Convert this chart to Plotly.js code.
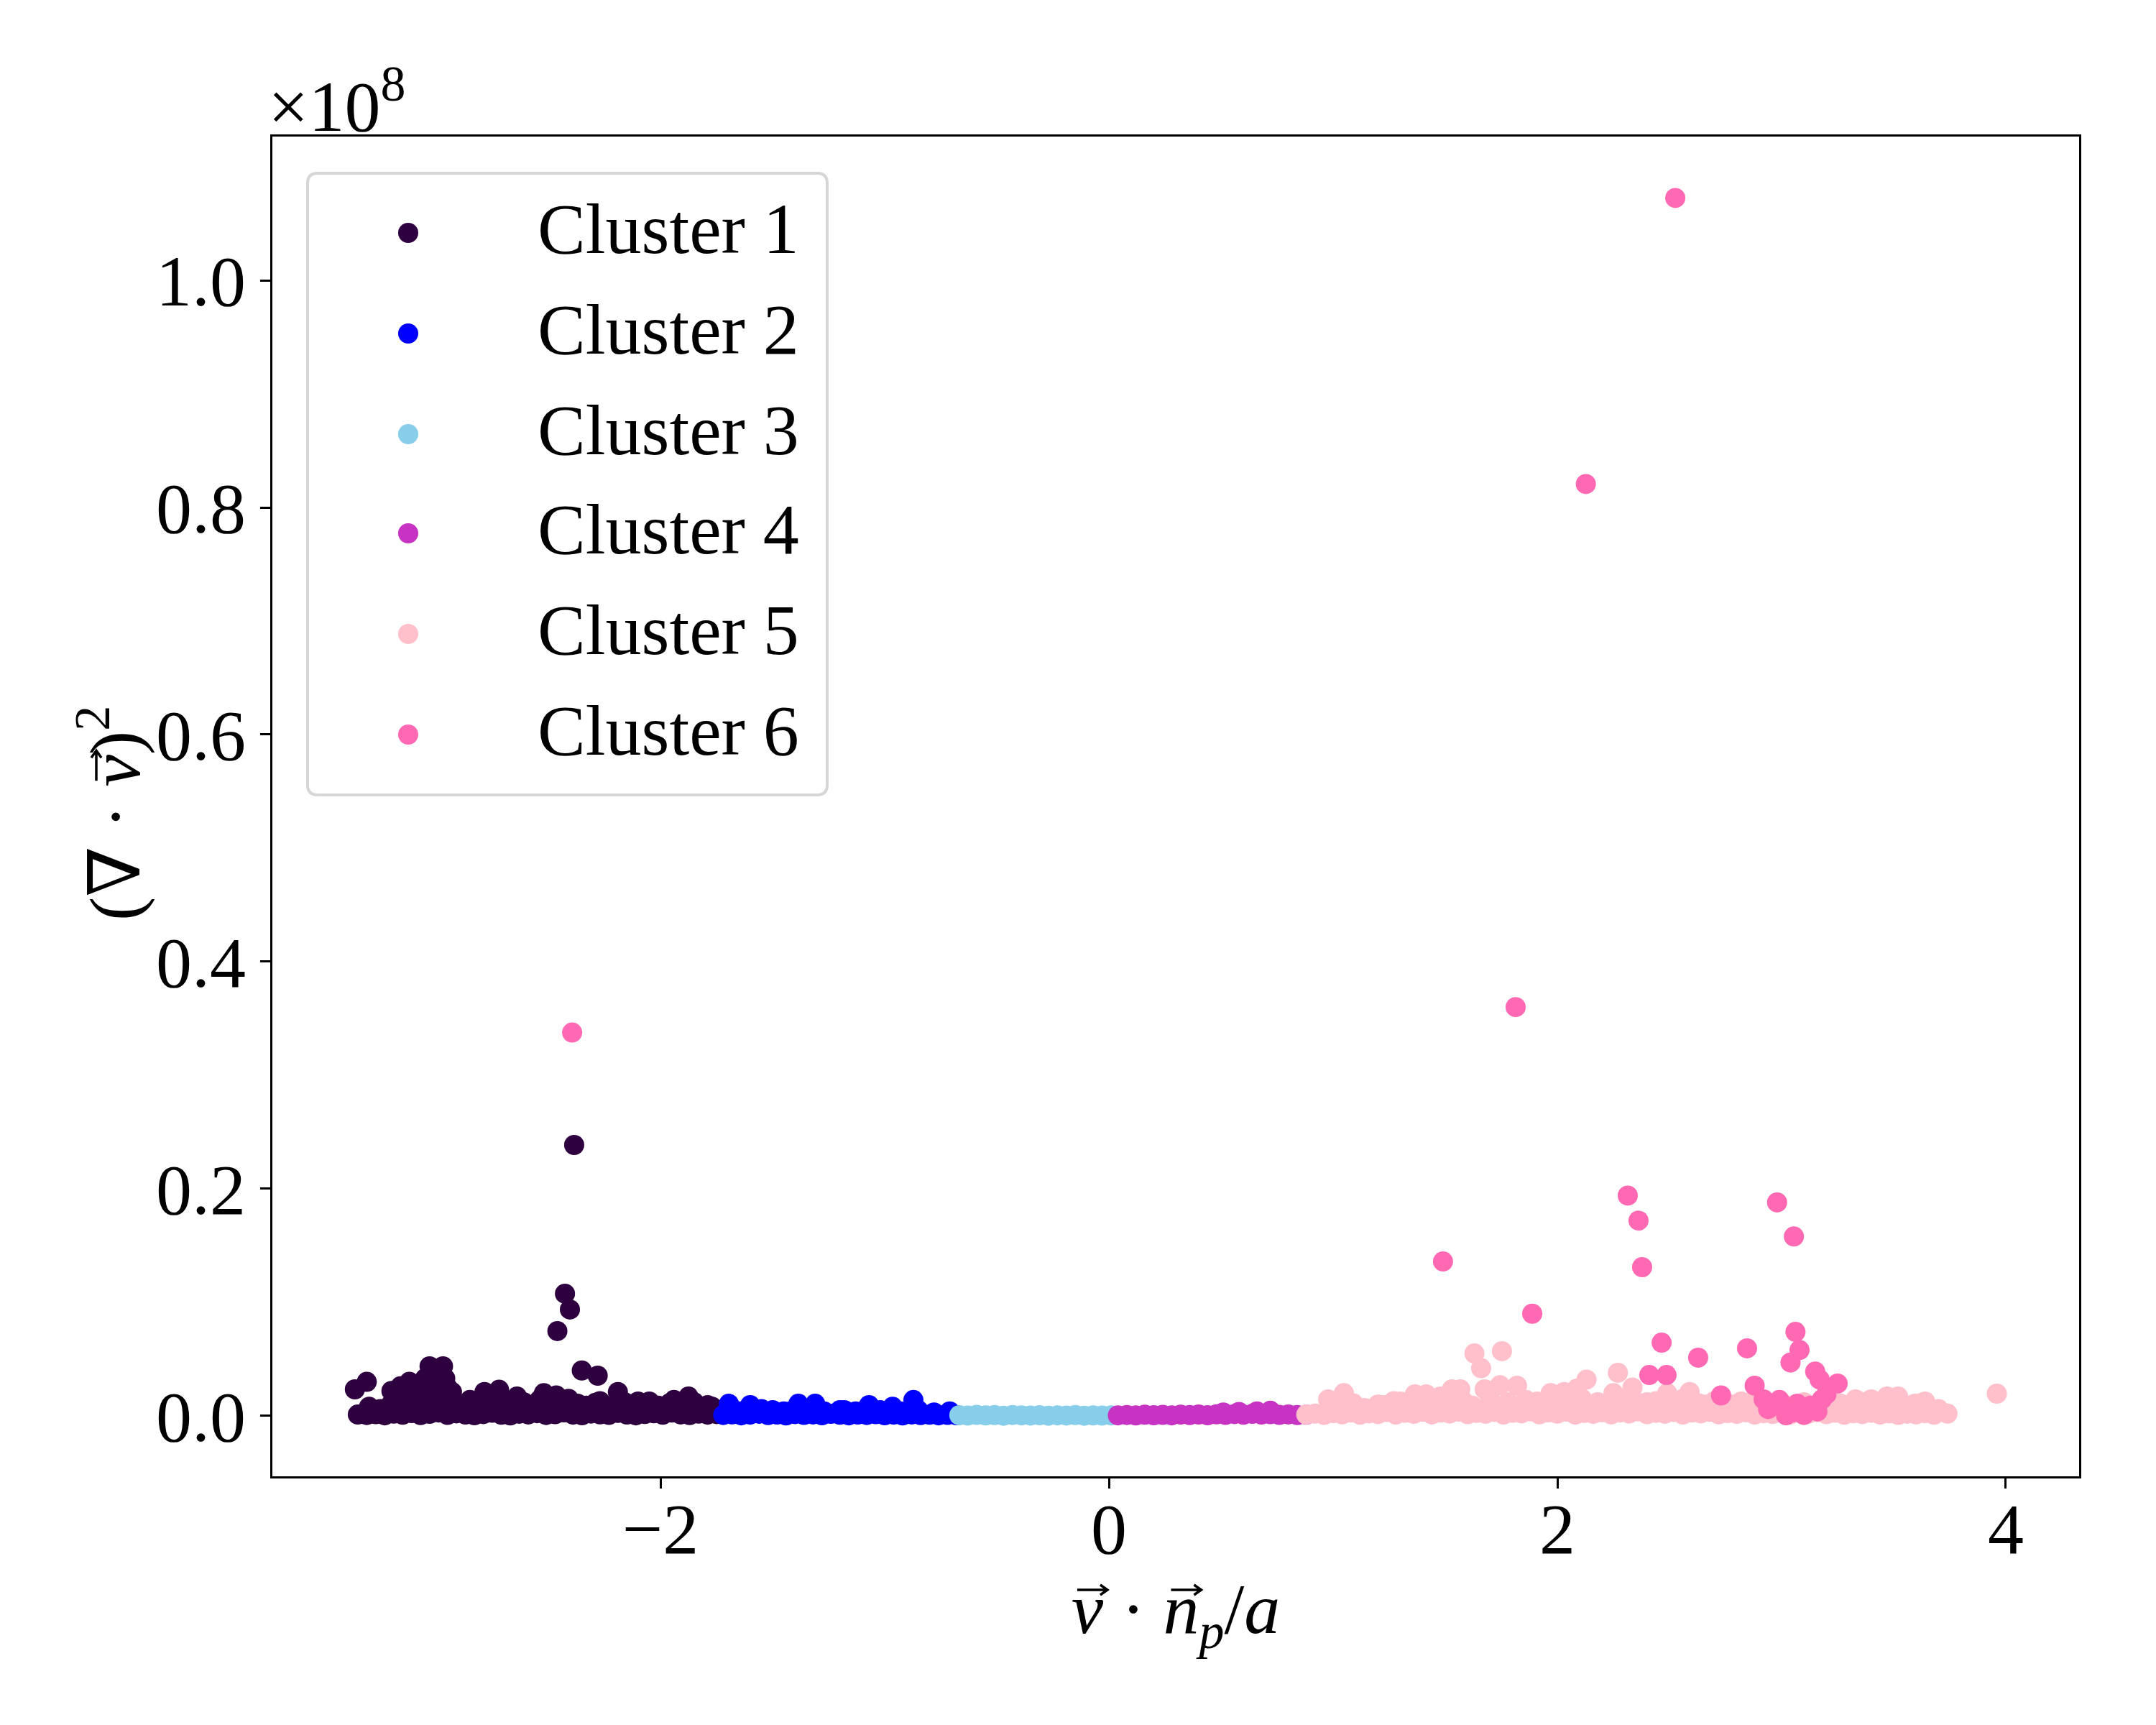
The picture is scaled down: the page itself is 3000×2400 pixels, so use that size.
<!DOCTYPE html>
<html>
<head>
<meta charset="utf-8">
<script src="https://cdn.plot.ly/plotly-3.0.1.min.js"></script>
<style>html,body{margin:0;padding:0;background:#fff;}</style>
</head>
<body>
<div id="chart" style="width:3000px;height:2400px;"></div>
<script>
// ---- Data (y values in units of 1e8) ----
const clusterNames = ["Cluster 1", "Cluster 2", "Cluster 3", "Cluster 4", "Cluster 5", "Cluster 6"];
const clusterColors = ["#2f003f", "#0000ff", "#87ceeb", "#c733c3", "#ffc0cb", "#ff69b4"];

const cluster1 = [
  [-3.35,0.0012],[-3.31,0.0008],[-3.27,0.0015],[-3.23,0.0005],[-3.19,0.0020],[-3.15,0.0010],[-3.11,0.0025],
  [-3.07,0.0007],[-3.03,0.0018],[-2.99,0.0030],[-2.95,0.0009],[-2.91,0.0022],[-2.87,0.0012],[-2.83,0.0006],
  [-2.79,0.0016],[-2.75,0.0028],[-2.71,0.0010],[-2.67,0.0004],[-2.63,0.0019],[-2.59,0.0013],[-2.55,0.0024],
  [-2.51,0.0008],[-2.47,0.0015],[-2.43,0.0031],[-2.39,0.0011],[-2.35,0.0006],[-2.31,0.0021],[-2.27,0.0014],
  [-2.23,0.0009],[-2.19,0.0026],[-2.15,0.0012],[-2.11,0.0005],[-2.07,0.0017],[-2.03,0.0023],[-1.99,0.0010],
  [-1.95,0.0029],[-1.91,0.0013],[-1.87,0.0007],[-1.83,0.0020],[-1.79,0.0011],[-1.75,0.0016],
  [-3.30,0.008],[-3.25,0.006],[-3.20,0.011],[-3.12,0.009],[-3.08,0.013],[-3.01,0.015],[-2.96,0.012],
  [-2.90,0.010],[-2.85,0.014],[-2.82,0.007],[-2.77,0.011],[-2.73,0.009],[-2.70,0.013],[-2.66,0.008],
  [-2.61,0.012],[-2.56,0.010],[-2.54,0.014],[-2.49,0.007],[-2.44,0.011],[-2.41,0.015],[-2.33,0.009],
  [-2.27,0.013],[-2.21,0.008],[-2.16,0.012],[-2.12,0.007],[-2.07,0.010],[-2.01,0.009],[-1.96,0.011],
  [-1.90,0.008],[-1.85,0.012],[-1.81,0.006],[-1.77,0.008],
  [-3.20,0.022],[-3.16,0.026],[-3.12,0.030],[-3.08,0.027],[-3.04,0.025],[-3.00,0.020],[-2.96,0.033],
  [-2.94,0.017],[-3.02,0.031],[-3.09,0.017],
  [-3.363,0.0234],[-3.31,0.030],[-3.17,0.0107],[-3.15,0.019],[-3.10,0.006],[-3.06,0.023],[-3.05,0.033],
  [-3.03,0.0437],[-2.97,0.0437],[-3.00,0.036],[-2.99,0.028],[-2.95,0.025],[-2.93,0.021],[-2.92,0.0127],
  [-2.88,0.008],[-2.80,0.012],[-2.785,0.021],[-2.75,0.015],[-2.72,0.023],[-2.68,0.010],[-2.64,0.017],
  [-2.58,0.009],[-2.52,0.020],[-2.465,0.018],[-2.37,0.0107],[-2.29,0.0115],[-2.24,0.006],[-2.19,0.021],
  [-2.10,0.0127],[-2.05,0.0127],[-1.98,0.007],[-1.94,0.014],[-1.875,0.017],[-1.83,0.008],[-1.79,0.0095],
  [-2.385,0.2386],[-2.426,0.1076],[-2.404,0.0937],[-2.46,0.0747],[-2.351,0.040],[-2.28,0.0354]
];

const cluster2 = [
  [-1.72,0.0008],[-1.68,0.0014],[-1.64,0.0005],[-1.60,0.0011],[-1.56,0.0019],[-1.52,0.0007],[-1.48,0.0012],
  [-1.44,0.0004],[-1.40,0.0016],[-1.36,0.0009],[-1.32,0.0013],[-1.28,0.0006],[-1.24,0.0018],[-1.20,0.0010],
  [-1.16,0.0005],[-1.12,0.0012],[-1.08,0.0008],[-1.04,0.0015],[-1.00,0.0006],[-0.96,0.0011],[-0.92,0.0004],
  [-0.88,0.0013],[-0.84,0.0007],[-0.80,0.0010],[-0.76,0.0005],[-0.72,0.0009],[-0.68,0.0006],
  [-1.70,0.005],[-1.65,0.004],[-1.58,0.006],[-1.50,0.005],[-1.42,0.004],[-1.35,0.006],[-1.27,0.004],
  [-1.18,0.005],[-1.10,0.004],[-1.02,0.005],[-0.93,0.004],[-0.85,0.005],[-0.78,0.003],[-0.71,0.004],
  [-1.695,0.0107],[-1.60,0.0095],[-1.55,0.006],[-1.45,0.004],[-1.385,0.0107],[-1.31,0.0107],[-1.20,0.005],
  [-1.13,0.004],[-1.07,0.0095],[-0.965,0.008],[-0.872,0.014]
];

const cluster3 = [
  [-0.667,0.0006],[-0.63,0.0003],[-0.59,0.0009],[-0.55,0.0004],[-0.51,0.0007],[-0.47,0.0002],[-0.43,0.0008],
  [-0.39,0.0005],[-0.35,0.0003],[-0.31,0.0006],[-0.27,0.0002],[-0.23,0.0005],[-0.19,0.0003],[-0.15,0.0007],
  [-0.11,0.0002],[-0.07,0.0004],[-0.03,0.0003],[0.01,0.0005]
];

const cluster4 = [
  [0.04,0.0005],[0.08,0.0008],[0.12,0.0004],[0.16,0.0010],[0.20,0.0006],[0.24,0.0009],[0.28,0.0005],
  [0.32,0.0011],[0.36,0.0007],[0.40,0.0012],[0.44,0.0006],[0.48,0.0014],[0.52,0.0009],[0.56,0.0016],
  [0.60,0.0010],[0.64,0.0018],[0.68,0.0012],[0.72,0.0015],[0.76,0.0009],[0.80,0.0013],[0.84,0.0007],
  [0.88,0.0010],
  [0.51,0.0030],[0.58,0.0035],[0.66,0.0040],[0.72,0.0045]
];

const cluster5 = [
  [0.88,0.0012],[0.92,0.0020],[0.96,0.0008],[1.00,0.0025],[1.04,0.0014],[1.08,0.0030],[1.12,0.0010],
  [1.16,0.0022],[1.20,0.0016],[1.24,0.0034],[1.28,0.0011],[1.32,0.0027],[1.36,0.0018],[1.40,0.0036],
  [1.44,0.0013],[1.48,0.0029],[1.52,0.0021],[1.56,0.0038],[1.60,0.0015],[1.64,0.0026],[1.68,0.0019],
  [1.72,0.0035],[1.76,0.0012],[1.80,0.0028],[1.84,0.0022],[1.88,0.0040],[1.92,0.0014],[1.96,0.0031],
  [2.00,0.0020],[2.04,0.0037],[2.08,0.0011],[2.12,0.0026],[2.16,0.0018],[2.20,0.0033],[2.24,0.0013],
  [2.28,0.0030],[2.32,0.0021],[2.36,0.0039],[2.40,0.0015],[2.44,0.0027],[2.48,0.0019],[2.52,0.0034],
  [2.56,0.0012],[2.60,0.0029],[2.64,0.0022],[2.68,0.0036],[2.72,0.0014],[2.76,0.0025],[2.80,0.0018],
  [2.84,0.0032],[2.88,0.0011],[2.92,0.0024],[2.96,0.0017],[3.00,0.0030],[3.04,0.0013],[3.08,0.0026],
  [3.12,0.0020],[3.16,0.0033],[3.20,0.0015],[3.24,0.0028],[3.28,0.0010],[3.32,0.0023],[3.36,0.0016],
  [3.40,0.0027],[3.44,0.0012],[3.48,0.0022],[3.52,0.0009],[3.56,0.0019],[3.60,0.0013],[3.64,0.0024],
  [3.68,0.0010],
  [1.02,0.008],[1.09,0.011],[1.14,0.007],[1.20,0.010],[1.27,0.013],[1.34,0.009],[1.39,0.012],
  [1.45,0.014],[1.50,0.010],[1.58,0.013],[1.62,0.009],[1.70,0.015],[1.78,0.012],[1.86,0.014],
  [1.94,0.010],[2.00,0.013],[2.06,0.011],[2.11,0.015],[2.18,0.012],[2.22,0.009],[2.30,0.014],
  [2.38,0.011],[2.44,0.013],[2.52,0.012],[2.56,0.015],[2.63,0.011],[2.70,0.013],[2.78,0.010],
  [2.86,0.012],[2.90,0.008],[2.97,0.011],[3.03,0.009],[3.10,0.012],[3.19,0.010],[3.26,0.011],
  [3.30,0.008],[3.36,0.012],[3.43,0.010],[3.50,0.013],[3.56,0.009],[3.62,0.011],[3.70,0.006],
  [0.978,0.0146],[1.048,0.020],[1.16,0.006],[1.225,0.0095],[1.30,0.0127],[1.365,0.019],[1.415,0.019],
  [1.478,0.017],[1.53,0.0234],[1.567,0.0234],[1.63,0.055],[1.66,0.042],[1.753,0.057],[1.676,0.0234],
  [1.744,0.027],[1.82,0.0266],[1.91,0.0127],[1.97,0.020],[2.03,0.021],[2.087,0.024],[2.13,0.032],
  [2.25,0.020],[2.27,0.038],[2.335,0.025],[2.40,0.012],[2.49,0.020],[2.59,0.021],[2.66,0.010],
  [2.82,0.0127],[3.33,0.0146],[3.40,0.0146],[3.47,0.017],[3.52,0.017],[3.595,0.0107],[3.64,0.0127],
  [3.67,0.004],[3.74,0.002],[3.96,0.0196]
];

const cluster6 = [
  [2.526,1.0725],[2.127,0.8206],[1.814,0.360],[-2.394,0.3376],[2.314,0.194],[2.362,0.172],[2.378,0.131],
  [2.98,0.188],[3.055,0.158],[1.49,0.136],[1.888,0.090],[3.062,0.074],[2.465,0.0645],[2.846,0.0595],
  [3.08,0.058],[2.628,0.0513],[3.04,0.047],[2.41,0.036],[2.487,0.036],[3.15,0.039],[3.17,0.032],
  [3.25,0.0285],[2.88,0.0266],[2.73,0.018],[2.92,0.0146],[2.99,0.014],[3.18,0.0146],[2.94,0.006],
  [3.07,0.0107],[3.02,0.0005],[3.10,0.0008],[3.16,0.004],[3.20,0.019],[3.05,0.003],[3.13,0.009]
];

const clusters = [cluster1, cluster2, cluster3, cluster4, cluster5, cluster6];

const xTickVals = [-2, 0, 2, 4];
const xTickText = ["\u22122", "0", "2", "4"];
const yTickVals = [0.0, 0.2, 0.4, 0.6, 0.8, 1.0];
const yTickText = ["0.0", "0.2", "0.4", "0.6", "0.8", "1.0"];

// ---- Styling ----
const FONT = "'Liberation Serif', 'DejaVu Serif', serif";
const FS = 100;
const MS = 28;

const traces = clusters.map((c, i) => ({
  type: "scatter",
  mode: "markers",
  name: clusterNames[i],
  x: c.map(p => p[0]),
  y: c.map(p => p[1]),
  marker: { color: clusterColors[i], size: MS, line: { width: 0 } },
  showlegend: false,
  hoverinfo: "skip"
}));

// custom legend (pixel offsets from top-left corner of plot area)
const L = { x0: 49, x1: 772, y0: 51, y1: 916, r: 14 };
const rows = [134, 274, 414, 552, 692, 832];
const legendPath =
  `M ${L.x0 + L.r},${-L.y0} L ${L.x1 - L.r},${-L.y0} Q ${L.x1},${-L.y0} ${L.x1},${-L.y0 - L.r} ` +
  `L ${L.x1},${-L.y1 + L.r} Q ${L.x1},${-L.y1} ${L.x1 - L.r},${-L.y1} ` +
  `L ${L.x0 + L.r},${-L.y1} Q ${L.x0},${-L.y1} ${L.x0},${-L.y1 + L.r} ` +
  `L ${L.x0},${-L.y0 - L.r} Q ${L.x0},${-L.y0} ${L.x0 + L.r},${-L.y0} Z`;

const shapes = [{
  type: "path", path: legendPath,
  xref: "paper", yref: "paper", xsizemode: "pixel", ysizemode: "pixel", xanchor: 0, yanchor: 1,
  fillcolor: "rgba(255,255,255,0.8)", line: { color: "#d6d6d6", width: 4 }, layer: "above"
}];
const annotations = [];
rows.forEach((r, i) => {
  shapes.push({
    type: "circle", xref: "paper", yref: "paper", xsizemode: "pixel", ysizemode: "pixel",
    xanchor: 0, yanchor: 1, x0: 189 - MS / 2, x1: 189 + MS / 2, y0: -r - MS / 2, y1: -r + MS / 2,
    fillcolor: clusterColors[i], line: { width: 0 }, layer: "above"
  });
  annotations.push({
    text: clusterNames[i], xref: "paper", yref: "paper", x: 0, y: 1, xshift: 367, yshift: -r + 6,
    xanchor: "left", yanchor: "middle", showarrow: false, font: { family: FONT, size: FS, color: "#000" }
  });
});
// offset text of the y axis
annotations.push({
  text: "\u00d710<sup>8</sup>", xref: "paper", yref: "paper", x: 0, y: 1, xanchor: "left", yanchor: "bottom",
  xshift: -8, yshift: -16, showarrow: false, font: { family: FONT, size: FS, color: "#000" }
});
// y axis title (rotated)
annotations.push({
  text: "(\u2207 \u00b7 <i>v</i>)<sup>2</sup>", xref: "paper", yref: "paper", x: 0, y: 0.5,
  xanchor: "center", yanchor: "middle", xshift: -226, yshift: -10, textangle: -90,
  showarrow: false, font: { family: FONT, size: FS, color: "#000" }
});

const axisCommon = {
  showgrid: false, zeroline: false, showline: true, linecolor: "#000", linewidth: 3, mirror: true,
  ticks: "outside", ticklen: 14, tickwidth: 3, tickcolor: "#000",
  tickfont: { family: FONT, size: FS, color: "#000" }
};

const layout = {
  width: 3000, height: 2400,
  margin: { l: 379, r: 107, t: 190, b: 346, pad: 0 },
  paper_bgcolor: "#fff", plot_bgcolor: "#fff",
  showlegend: false,
  font: { family: FONT, size: FS, color: "#000" },
  xaxis: Object.assign({}, axisCommon, {
    range: [-3.731, 4.327], tickmode: "array", tickvals: xTickVals, ticktext: xTickText,
    ticklabelstandoff: -30,
    title: { text: "<i>v</i> \u00b7 <i>n</i><sub><i>p</i></sub>/<i>a</i>", font: { family: FONT, size: FS }, standoff: 6 }
  }),
  yaxis: Object.assign({}, axisCommon, {
    range: [-0.0532, 1.1266], tickmode: "array", tickvals: yTickVals, ticktext: yTickText
  }),
  shapes: shapes,
  annotations: annotations
};

// vector arrows over v and n in the axis titles (drawn as Plotly shapes, placed from the rendered glyphs)
function vectorArrows(gd) {
  const sz = gd._fullLayout._size;
  const svg = gd.querySelector(".main-svg");
  const sRect = svg.getBoundingClientRect();
  const out = [];
  function addFor(t, ch) {
    if (!t) return;
    const idx = t.textContent.indexOf(ch);
    if (idx < 0) return;
    const ext = t.getExtentOfChar(idx);
    const base = t.getStartPositionOfChar(idx).y;
    const m = t.getScreenCTM();
    const cx = ext.x + ext.width / 2 + 0.07 * FS;
    const ay = base - 0.60 * FS;
    const half = 0.21 * FS;
    const toScr = (x, y) => {
      const p = new DOMPoint(x, y).matrixTransform(m);
      return [p.x - sRect.left, p.y - sRect.top];
    };
    const c = toScr(cx, ay);
    const pts = [toScr(cx - half, ay), toScr(cx + half, ay), toScr(cx + half - 10, ay - 7), toScr(cx + half - 10, ay + 7)];
    const rel = pts.map(p => [p[0] - c[0], -(p[1] - c[1])]);
    const f = v => v.toFixed(2);
    const path = `M ${f(rel[0][0])},${f(rel[0][1])} L ${f(rel[1][0])},${f(rel[1][1])} ` +
                 `M ${f(rel[2][0])},${f(rel[2][1])} L ${f(rel[1][0])},${f(rel[1][1])} L ${f(rel[3][0])},${f(rel[3][1])}`;
    out.push({
      type: "path", path: path, xref: "paper", yref: "paper", xsizemode: "pixel", ysizemode: "pixel",
      xanchor: (c[0] - sz.l) / sz.w, yanchor: 1 - (c[1] - sz.t) / sz.h,
      line: { color: "#000", width: 3.5 }, fillcolor: "rgba(0,0,0,0)", layer: "above"
    });
  }
  try {
    const xt = gd.querySelector(".g-xtitle text");
    addFor(xt, "v");
    addFor(xt, "n");
    const yt = Array.from(gd.querySelectorAll(".annotation-text")).find(e => e.textContent.indexOf("\u2207") >= 0);
    addFor(yt, "v");
  } catch (e) {}
  return out;
}

Plotly.newPlot("chart", traces, layout, { staticPlot: true, displayModeBar: false }).then(gd => {
  const extra = vectorArrows(gd);
  if (extra.length) return Plotly.relayout(gd, { shapes: shapes.concat(extra) });
});
</script>
</body>
</html>
